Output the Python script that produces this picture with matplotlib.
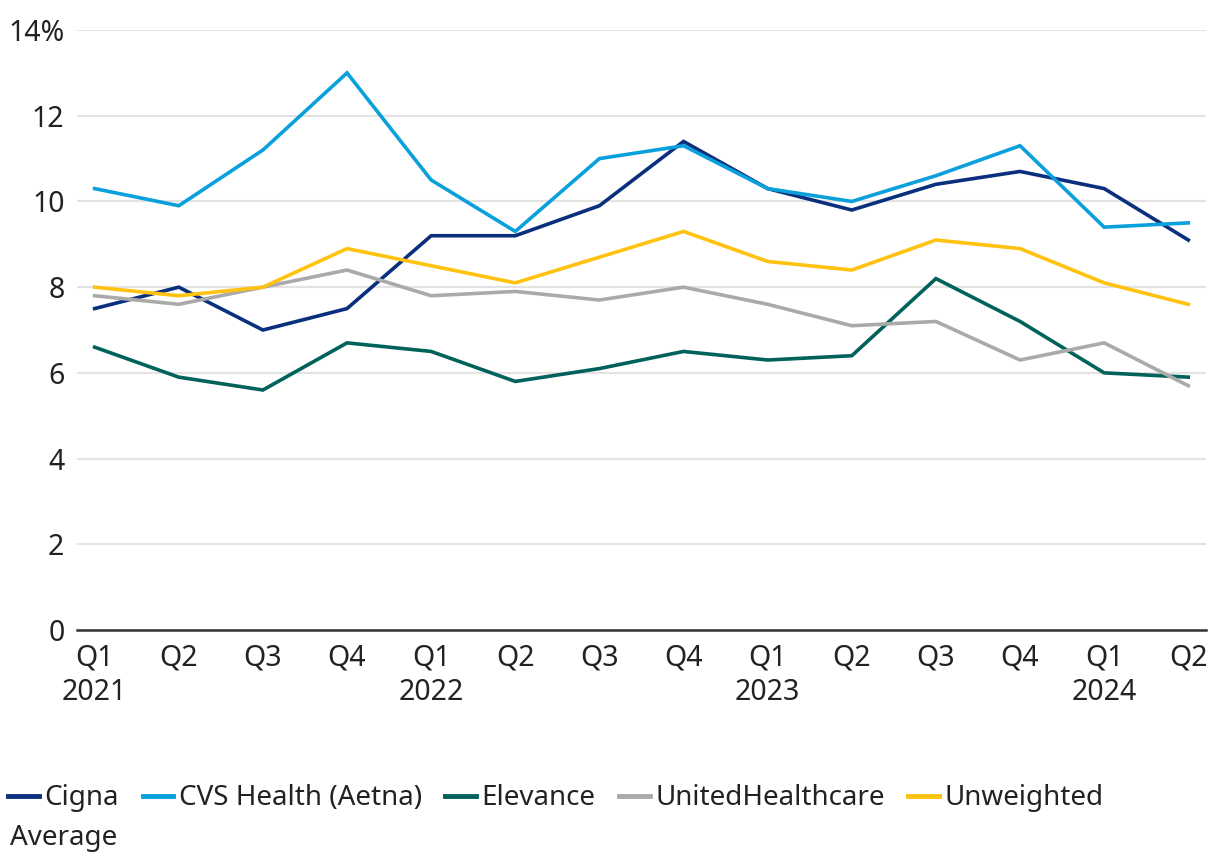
import matplotlib
matplotlib.use('Agg')
import matplotlib.pyplot as plt

plt.rcParams['font.family'] = ['Noto Sans', 'DejaVu Sans']

quarters = ['Q1\n2021', 'Q2', 'Q3', 'Q4', 'Q1\n2022', 'Q2', 'Q3', 'Q4',
            'Q1\n2023', 'Q2', 'Q3', 'Q4', 'Q1\n2024', 'Q2']

cigna = [7.5, 8.0, 7.0, 7.5, 9.2, 9.2, 9.9, 11.4, 10.3, 9.8, 10.4, 10.7, 10.3, 9.1]
cvs = [10.3, 9.9, 11.2, 13.0, 10.5, 9.3, 11.0, 11.3, 10.3, 10.0, 10.6, 11.3, 9.4, 9.5]
elevance = [6.6, 5.9, 5.6, 6.7, 6.5, 5.8, 6.1, 6.5, 6.3, 6.4, 8.2, 7.2, 6.0, 5.9]
united = [7.8, 7.6, 8.0, 8.4, 7.8, 7.9, 7.7, 8.0, 7.6, 7.1, 7.2, 6.3, 6.7, 5.7]
unweighted = [8.0, 7.8, 8.0, 8.9, 8.5, 8.1, 8.7, 9.3, 8.6, 8.4, 9.1, 8.9, 8.1, 7.6]

series_names = ['Cigna', 'CVS Health (Aetna)', 'Elevance', 'UnitedHealthcare', 'Unweighted']
colors = ['#0a2f7d', '#0aa0dc', '#00625a', '#aaaaaa', '#ffc20e']

yticks = [0, 2, 4, 6, 8, 10, 12, 14]
ytick_labels = ['0', '2', '4', '6', '8', '10', '12', '14%']

fs = 20.5
fs_leg = 20

fig = plt.figure(figsize=(12.2, 8.68), dpi=100)
ax = fig.add_axes([0.0631, 0.2742, 0.9254, 0.6912])

x = list(range(len(quarters)))
for vals, name, c in zip([cigna, cvs, elevance, united, unweighted], series_names, colors):
    ax.plot(x, vals, color=c, linewidth=2.6, label=name, solid_joinstyle='miter')

ax.set_ylim(0, 14)
ax.set_xlim(-0.21, 13.21)
ax.set_yticks(yticks)
ax.set_yticklabels(ytick_labels)
ax.set_xticks(x)
ax.set_xticklabels(quarters, linespacing=1.25)

ax.grid(axis='y', color='#e3e3e3', linewidth=1.5)
ax.set_axisbelow(True)
for s in ['top', 'right', 'left']:
    ax.spines[s].set_visible(False)
ax.spines['bottom'].set_color('#333333')
ax.spines['bottom'].set_linewidth(1.8)
ax.tick_params(axis='both', length=0, labelsize=fs, labelcolor='#222222')
ax.tick_params(axis='y', pad=9)
ax.tick_params(axis='x', pad=10)

leg = fig.legend(loc='upper left', bbox_to_anchor=(0.0, 1 - 776 / 868), ncol=5,
                 frameon=False, fontsize=fs_leg, handlelength=1.1, handletextpad=0.2,
                 columnspacing=0.85, borderaxespad=0, borderpad=0.3)
for t in leg.get_texts():
    t.set_color('#222222')
for h in leg.legend_handles:
    h.set_linewidth(3.5)
fig.text(10 / 1220, 1 - 838 / 868, 'Average', fontsize=fs_leg, color='#222222', va='center')

fig.savefig('out.png', dpi=100)
